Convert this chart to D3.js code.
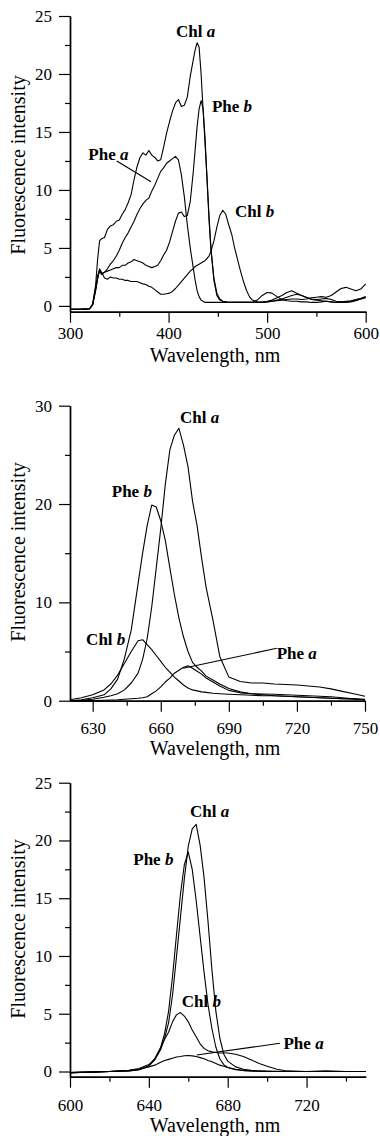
<!DOCTYPE html>
<html><head><meta charset="utf-8">
<script src="https://cdn.jsdelivr.net/npm/d3@7"></script>
<style>
html,body{margin:0;padding:0;background:#fff;}
svg{display:block;}
text{font-family:"Liberation Serif","Times New Roman",serif;fill:#000;}
</style></head>
<body>
<svg id="chart" width="380" height="1136"></svg>
<script>
// ---------- Panel 1 (excitation, 300–600 nm) ----------
const p1Wavelength = [300,310,320,323,326,328,330,332,335,338,341,344,347,350,353,356,359,362,365,368,371,374,377,380,383,386,389,392,395,398,401,404,407,410,413,416,419,422,425,427,429,431,433,435,437,439,441,443,446,449,452,455,458,461,464,467,470,473,476,479,482,485,490,495,500,505,510,515,520,525,530,535,540,545,550,555,560,565,570,575,580,585,590,595,600];
const p1ChlA = [-0.3,-0.3,-0.25,0.2,1.8,4.0,5.6,5.8,5.9,6.6,6.9,7.0,7.3,7.4,7.9,8.3,8.9,9.6,10.9,12.0,12.8,13.2,13.0,13.4,13.0,12.8,12.5,12.6,13.7,14.9,15.9,16.8,17.5,17.8,17.2,17.3,18.0,19.8,21.2,22.1,22.7,22.3,20.0,17.0,14.0,11.0,7.8,5.0,2.2,0.9,0.5,0.4,0.35,0.3,0.3,0.3,0.3,0.3,0.3,0.3,0.3,0.3,0.3,0.3,0.35,0.4,0.45,0.5,0.55,0.6,0.6,0.55,0.6,0.7,0.75,0.8,0.75,0.9,1.2,1.5,1.6,1.45,1.3,1.45,1.9];
const p1PheB = [-0.3,-0.3,-0.25,0.1,1.5,2.6,3.1,2.7,2.9,3.0,3.1,3.2,3.3,3.3,3.5,3.5,3.7,3.8,4.0,3.9,3.8,3.7,3.5,3.4,3.3,3.4,3.5,3.9,4.4,4.8,5.5,6.4,7.3,8.0,8.1,7.7,7.8,9.0,11.5,13.5,15.5,17.0,17.7,17.0,14.5,11.0,7.5,4.8,2.4,1.1,0.6,0.4,0.35,0.3,0.3,0.3,0.3,0.3,0.3,0.3,0.3,0.3,0.3,0.35,0.4,0.5,0.7,0.9,1.15,1.3,1.1,0.9,0.75,0.6,0.55,0.6,0.65,0.55,0.4,0.35,0.3,0.35,0.45,0.6,0.7];
const p1PheA = [-0.3,-0.3,-0.25,0.1,1.4,2.4,3.0,2.8,2.9,3.2,3.6,3.9,4.3,4.8,5.4,5.9,6.3,6.8,7.3,7.9,8.4,8.8,9.1,9.3,9.9,10.4,11.0,11.6,11.9,12.3,12.5,12.7,12.9,12.6,11.3,9.4,7.0,5.0,3.3,2.2,1.3,0.8,0.5,0.4,0.3,0.3,0.3,0.3,0.3,0.3,0.3,0.3,0.3,0.3,0.3,0.3,0.3,0.3,0.3,0.3,0.3,0.3,0.5,0.9,1.15,1.1,0.8,0.55,0.45,0.4,0.4,0.35,0.35,0.3,0.3,0.35,0.4,0.35,0.3,0.3,0.35,0.4,0.5,0.6,0.75];
const p1ChlB = [-0.3,-0.3,-0.25,0.1,1.3,2.3,3.2,2.9,2.4,2.3,2.5,2.4,2.4,2.3,2.3,2.2,2.2,2.1,2.1,2.1,2.0,1.9,1.85,1.7,1.6,1.4,1.2,1.0,1.0,1.05,1.1,1.25,1.5,1.8,2.1,2.4,2.7,3.0,3.2,3.4,3.5,3.6,3.7,3.8,3.9,4.1,4.3,4.7,5.6,6.8,7.8,8.25,7.9,7.0,6.2,5.0,4.0,3.0,2.1,1.35,0.8,0.5,0.35,0.3,0.35,0.4,0.5,0.6,0.75,0.9,1.0,0.9,0.7,0.55,0.5,0.45,0.4,0.35,0.3,0.35,0.4,0.45,0.55,0.65,0.8];
const p1XTicks = [300,400,500,600];
const p1XMinor = [350,450,550];
const p1YTicks = [0,5,10,15,20,25];
const p1YMinor = [2.5,7.5,12.5,17.5,22.5];

// ---------- Panel 2 (emission, 620–750 nm) ----------
const p2Wavelength = [620,625,630,635,638,641,644,647,650,652,654,656,658,660,662,664,666,668,670,672,674,676,678,680,683,686,690,695,700,705,710,715,720,725,730,735,740,745,750];
const p2ChlA = [0.0,0.05,0.15,0.35,0.5,0.7,1.1,1.8,2.8,4.2,6.3,9.5,13.5,17.5,22.0,25.5,27.0,27.7,26.0,23.8,20.3,17.8,14.5,11.5,8.2,4.5,2.4,1.95,1.8,1.8,1.7,1.65,1.6,1.5,1.4,1.2,0.95,0.7,0.45];
const p2PheB = [0.0,0.1,0.3,0.6,1.2,2.2,4.3,7.2,11.9,15.0,17.8,19.9,19.7,18.3,16.3,13.5,10.8,8.4,6.5,5.0,3.9,3.4,3.0,2.5,2.1,1.7,1.25,0.9,0.7,0.6,0.5,0.45,0.4,0.35,0.3,0.25,0.2,0.2,0.15];
const p2ChlB = [0.1,0.3,0.6,1.1,1.7,2.6,3.8,5.0,6.1,6.2,5.7,5.2,4.6,4.0,3.4,2.9,2.4,2.0,1.6,1.3,1.1,1.0,0.9,0.85,0.75,0.7,0.65,0.6,0.55,0.5,0.5,0.45,0.4,0.35,0.3,0.25,0.2,0.15,0.1];
const p2PheA = [0,0,0.02,0.05,0.07,0.1,0.15,0.2,0.25,0.3,0.4,0.7,1.0,1.4,1.9,2.3,2.8,3.1,3.4,3.55,3.3,3.0,2.7,2.3,1.9,1.5,1.05,0.8,0.7,0.68,0.65,0.6,0.55,0.5,0.45,0.4,0.3,0.2,0.1];
const p2XTicks = [630,660,690,720,750];
const p2XMinor = [645,675,705,735];
const p2YTicks = [0,10,20,30];
const p2YMinor = [5,15,25];

// ---------- Panel 3 (emission, 600–750 nm) ----------
const p3Wavelength = [600,610,620,630,635,640,643,646,648,650,652,654,656,658,660,662,664,666,668,670,672,674,676,678,680,684,688,692,696,700,705,710,720,730,740,750];
const p3ChlA = [-0.1,-0.05,0,0.05,0.15,0.5,1.0,1.9,2.9,4.2,6.6,9.9,13.3,16.7,19.5,21.0,21.4,19.6,16.8,13.0,8.8,5.2,2.9,1.5,0.9,0.4,0.2,0.1,0.05,0.03,0.02,0,0,0,0,0];
const p3PheB = [-0.1,-0.05,0,0.05,0.15,0.45,1.1,2.1,3.3,5.2,8.2,11.8,15.3,17.9,19.0,17.5,14.8,11.7,8.6,5.8,3.7,2.1,1.1,0.6,0.35,0.15,0.08,0.05,0.02,0,0,0,0,0,0,0];
const p3ChlB = [-0.1,-0.05,0,0.1,0.25,0.6,1.1,2.0,2.8,3.4,4.3,4.9,5.1,4.8,4.3,3.6,3.0,2.4,2.0,1.8,1.7,1.65,1.6,1.6,1.6,1.5,1.3,1.0,0.7,0.45,0.2,0.05,0,0.05,0,0];
const p3PheA = [-0.1,-0.05,0,0.1,0.2,0.4,0.55,0.8,0.95,1.05,1.15,1.25,1.3,1.36,1.38,1.35,1.3,1.2,1.1,0.95,0.85,0.7,0.55,0.45,0.35,0.2,0.1,0.05,0.02,0,0,0,0,0,0,0];
const p3XTicks = [600,640,680,720];
const p3XMinor = [620,660,700,740];
const p3YTicks = [0,5,10,15,20,25];
const p3YMinor = [2.5,7.5,12.5,17.5,22.5];

const xTitle = "Wavelength, nm";
const yTitle = "Fluorescence intensity";

const svg = d3.select("#chart");

function drawPanel(cfg) {
  const x = d3.scaleLinear().domain(cfg.xDomain).range([70, cfg.xRight]);
  const y = d3.scaleLinear().domain(cfg.yDomain).range([cfg.yBottom, cfg.yTop]);
  const g = svg.append("g");

  // curves
  const line = d3.line().x(d => x(d[0])).y(d => y(d[1]));
  cfg.series.forEach(s => {
    const pts = cfg.wl.map((w, i) => [w, s[i]]);
    g.append("path").datum(pts).attr("d", line)
      .attr("fill", "none").attr("stroke", "#000").attr("stroke-width", 1.1)
      .attr("stroke-linejoin", "round");
  });

  // y axis
  g.append("g").attr("transform", `translate(70,0)`)
    .call(d3.axisLeft(y).tickValues(cfg.yTicks).tickSize(11).tickSizeOuter(0).tickPadding(7).tickFormat(d3.format("d")));
  g.append("g").attr("transform", `translate(70,0)`)
    .call(d3.axisLeft(y).tickValues(cfg.yMinor).tickSize(5).tickSizeOuter(0).tickFormat(""));
  // x axis
  g.append("g").attr("transform", `translate(0,${cfg.yBottom})`)
    .call(d3.axisBottom(x).tickValues(cfg.xTicks).tickSize(11).tickSizeOuter(0).tickPadding(cfg.xPad).tickFormat(d3.format("d")));
  g.append("g").attr("transform", `translate(0,${cfg.yBottom})`)
    .call(d3.axisBottom(x).tickValues(cfg.xMinor).tickSize(5).tickSizeOuter(0).tickFormat(""));

  g.selectAll(".domain").attr("stroke", "#000").attr("stroke-width", 1.4);
  g.selectAll(".tick line").attr("stroke", "#000").attr("stroke-width", 1.2);
  g.selectAll(".tick text").attr("font-size", 17).attr("font-family", '"Liberation Serif", serif');

  // axis titles
  g.append("text").attr("x", 215).attr("y", cfg.xTitleY).attr("text-anchor", "middle")
    .attr("font-size", 20).text(xTitle);
  g.append("text").attr("transform", `translate(25,${cfg.yTitleC}) rotate(-90)`)
    .attr("text-anchor", "middle").attr("font-size", 20).text(yTitle);

  // annotations
  cfg.labels.forEach(l => {
    const t = g.append("text").attr("x", x(l[1])).attr("y", y(l[2]))
      .attr("font-size", 17).attr("font-weight", "bold");
    t.append("tspan").text(l[0].split(" ")[0] + " ");
    t.append("tspan").attr("font-style", "italic").text(l[0].split(" ")[1]);
  });
  if (cfg.pointer) {
    const p = cfg.pointer;
    g.append("line").attr("x1", x(p[0])).attr("y1", y(p[1])).attr("x2", x(p[2])).attr("y2", y(p[3]))
      .attr("stroke", "#000").attr("stroke-width", 1.1);
  }
}

drawPanel({
  wl: p1Wavelength, series: [p1ChlA, p1PheB, p1PheA, p1ChlB],
  xDomain: [300, 600], xRight: 365.7, yDomain: [-0.5, 25], yTop: 16, yBottom: 311.7,
  xTicks: p1XTicks, xMinor: p1XMinor, yTicks: p1YTicks, yMinor: p1YMinor, xPad: 4,
  xTitleY: 362, yTitleC: 165,
  labels: [["Chl a", 407.5, 23.2], ["Phe b", 444, 16.7], ["Phe a", 318.6, 12.6], ["Chl b", 467.4, 7.7]],
  pointer: [347.4, 12.5, 382.2, 10.7]
});
drawPanel({
  wl: p2Wavelength, series: [p2ChlA, p2PheB, p2ChlB, p2PheA],
  xDomain: [620, 750], xRight: 365, yDomain: [0, 30], yTop: 405.7, yBottom: 700.7,
  xTicks: p2XTicks, xMinor: p2XMinor, yTicks: p2YTicks, yMinor: p2YMinor, xPad: 10,
  xTitleY: 755, yTitleC: 552,
  labels: [["Chl a", 668.5, 28.2], ["Phe b", 638.4, 20.7], ["Chl b", 627.1, 5.7], ["Phe a", 711.1, 4.2]],
  pointer: [669.9, 3.3, 711.1, 5.33]
});
drawPanel({
  wl: p3Wavelength, series: [p3ChlA, p3PheB, p3ChlB, p3PheA],
  xDomain: [600, 750], xRight: 365.7, yDomain: [-0.45, 25], yTop: 782.7, yBottom: 1076.7,
  xTicks: p3XTicks, xMinor: p3XMinor, yTicks: p3YTicks, yMinor: p3YMinor, xPad: 11,
  xTitleY: 1132, yTitleC: 929,
  labels: [["Chl a", 660.9, 22.0], ["Phe b", 632.1, 17.9], ["Chl b", 656.7, 5.56], ["Phe a", 708.3, 1.95]],
  pointer: [664.3, 1.43, 706.5, 2.44]
});
</script>
</body></html>
